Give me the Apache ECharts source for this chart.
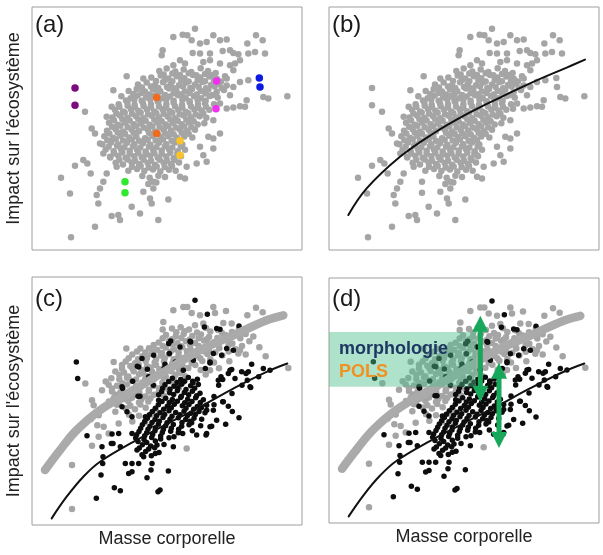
<!DOCTYPE html>
<html>
<head>
<meta charset="utf-8">
<script src="https://cdn.jsdelivr.net/npm/echarts/dist/echarts.min.js"></script>
<style>
  html, body { margin: 0; padding: 0; background: #fff; }
  #chart { width: 603px; height: 555px; }
</style>
</head>
<body>
<div id="chart"></div>
<script>
// data, in arbitrary units (mass 0-810, impact 0-745)
const cloudCore = [
  [382,538],[404,545],[430,536],[455,542],[478,535],[506,546],[528,538],[551,532],
  [358,518],[386,524],[409,515],[434,522],[457,516],[483,526],[505,518],[532,521],[555,514],[579,522],
  [318,497],[344,503],[369,495],[393,504],[416,498],[441,495],[462,503],[489,497],[511,505],[537,496],[561,500],[584,494],
  [290,478],[314,484],[339,476],[363,482],[385,477],[411,485],[433,479],[459,476],[480,484],[506,478],[529,482],[554,475],[576,481],
  [268,462],[296,456],[317,464],[342,458],[365,463],[391,456],[413,461],[438,465],[461,457],[486,462],[507,456],[533,463],[557,458],
  [260,438],[286,444],[308,436],[333,441],[357,437],[379,444],[403,438],[425,442],[450,436],[473,443],[498,437],[519,441],[546,438],
  [249,421],[273,416],[297,423],[319,418],[345,422],[367,416],[392,423],[414,417],[439,421],[461,415],[487,422],[509,418],[532,421],
  [241,398],[264,404],[286,397],[312,402],[334,396],[359,403],[381,398],[407,401],[429,396],[455,404],[477,398],[503,402],[523,397],
  [231,382],[257,376],[279,383],[305,378],[327,381],[353,376],[375,383],[401,377],[423,382],[449,378],[471,384],[497,377],[517,381],
  [225,358],[251,363],[273,356],[299,361],[321,357],[347,362],[369,356],[395,361],[417,358],[443,363],[465,357],[489,361],
  [217,342],[243,337],[265,343],[291,338],[313,341],[339,336],[361,343],[387,339],[409,342],[435,337],[457,341],[481,338],
  [211,318],[237,323],[259,317],[285,322],[307,318],[333,321],[355,316],[381,322],[403,318],[429,323],[451,317],
  [221,302],[245,297],[267,303],[293,298],[315,301],[341,296],[363,302],[389,299],[411,303],[437,297],[459,301],
  [235,278],[259,283],[281,277],[307,282],[329,279],[355,284],[377,278],[403,281],[425,276],[447,282],
  [251,262],[273,257],[299,263],[321,258],[347,261],[369,256],[395,262],[417,258],[441,263],
  [289,238],[315,243],[337,237],[363,242],[385,236],[411,241],[431,238],
  [331,222],[353,217],[379,223],[399,219],
  [349,198],[373,203]
];
const cloudDense = [
  [395,527],[421,530],[444,526],[470,531],[493,525],[519,529],[541,526],
  [372,508],[399,511],[421,507],[448,510],[470,506],[497,511],[519,507],[546,510],[567,506],
  [330,488],[357,491],[379,487],[405,490],[427,486],[453,491],[475,487],[500,490],[522,486],[548,491],[569,487],
  [304,469],[329,472],[351,467],[377,471],[399,466],[425,471],[447,468],[473,472],[494,467],[520,470],[542,466],
  [282,449],[307,452],[329,448],[355,451],[377,447],[403,452],[425,448],[451,451],[473,447],[497,450],[521,448],
  [262,430],[287,433],[309,429],[335,432],[357,428],[381,431],[403,427],[429,432],[451,428],[477,431],[499,427],[522,430],
  [253,410],[278,413],[300,409],[326,412],[348,408],[373,411],[395,409],[421,412],[443,408],[469,411],[491,407],[514,410],
  [246,390],[271,393],[293,389],[319,392],[341,388],[367,391],[389,387],[415,392],[437,388],[463,391],[485,387],
  [240,370],[265,373],[287,369],[313,372],[335,368],[361,371],[383,369],[409,372],[431,368],[457,371],[478,369],
  [232,350],[257,353],[279,349],[305,352],[351,352],[377,349],[399,351],[425,348],[449,352],[470,349],
  [226,330],[251,333],[273,329],[299,332],[321,328],[347,331],[371,329],[393,332],[419,328],[442,331],
  [230,310],[255,313],[277,309],[303,312],[325,308],[351,311],[373,309],[399,312],[421,308],[446,311],
  [246,290],[271,293],[293,289],[319,292],[341,288],[367,291],[389,289],[415,292],[436,289],
  [262,270],[287,272],[309,268],[335,271],[357,268],[383,271],[405,268],[428,270],
  [300,250],[326,252],[350,248],[374,251],[398,249],[420,252]
];
const cloudOuter = [
  [489,665],[424,640],[452,647],[466,645],[479,630],[504,620],[524,625],[544,645],[564,630],[584,632],
  [672,645],[692,630],[646,620],[392,600],[389,585],[482,592],[504,590],[534,590],[572,598],[594,600],
  [604,592],[619,588],[649,590],[669,595],[699,590],[424,555],[444,570],[459,560],[514,565],[534,570],
  [564,560],[594,555],[609,560],[624,570],[284,522],[334,515],[604,540],[584,515],[624,505],[649,510],
  [604,490],[594,465],[644,450],[639,430],[694,460],[709,455],[766,462],[584,425],[604,428],[624,432],
  [564,440],[544,390],[529,340],[544,335],[564,350],[504,310],[494,260],[524,265],[514,285],[544,305],
  [464,250],[444,220],[459,215],[409,152],[364,205],[364,185],[334,175],[354,155],[359,140],[379,90],
  [324,110],[299,130],[259,105],[239,102],[264,90],[189,70],[114,170],[117,38],[87,217],[129,253],
  [154,270],[166,260],[176,230],[194,165],[199,140],[204,185],[214,205],[224,230],[254,250],[244,480],
  [159,415],[179,365],[189,350],[204,320],[214,290],[234,280],[224,400],[239,430]
];
const purplePts = [[129,487],[129,435]];
const orangePts = [[374,458],[374,350]];
const yellowPts = [[444,328],[444,285]];
const magentaPts = [[554,508],[552,424]];
const bluePts = [[682,517],[684,490]];
const greenPts = [[279,205],[279,172]];

const fitCurveB = [[58,105],[113,185],[213,280],[313,350],[413,408],[513,458],[613,505],[713,548],[768,572]];

const upperGray = [
  [424,645],[454,655],[466,655],[479,637],[504,630],[544,655],[549,637],[582,643],[646,630],[672,653],
  [692,639],[394,610],[392,587],[489,600],[514,605],[574,607],[599,605],[619,515],[624,525],[769,472],
  [464,230],[283,530],[325,530],[245,490],[270,470],[180,375],[185,360],[210,405],[240,410],[160,425],
  [120,180],[120,48],[180,238],[200,265],[230,275],[215,295],[260,305],[250,340],[534,465],
  [420,590],[446,594],[471,587],[522,592],[558,586],[621,590],
  [402,571],[431,566],[455,574],[481,568],[507,572],[531,565],[582,570],[641,574],[664,566],
  [380,548],[411,553],[436,546],[462,552],[489,547],[516,554],[546,549],[601,545],[652,552],
  [351,531],[376,526],[401,533],[426,528],[451,534],[476,527],[502,532],[531,526],[562,531],[611,528],[682,534],
  [301,512],[331,507],[358,514],[386,509],[411,513],[439,506],[466,512],[495,508],[526,514],[571,509],[641,512],[701,507],
  [281,491],[309,486],[341,493],[368,488],[396,492],[421,486],[451,491],[479,487],[511,493],[546,488],[592,492],
  [301,471],[329,466],[356,473],[382,468],[409,472],[441,467],[469,472],[506,466],[561,471],
  [262,451],[289,446],[321,453],[346,447],[374,452],[401,446],[431,451],[459,447],[521,452],
  [221,431],[271,426],[299,433],[331,428],[358,432],[391,427],[419,431],[452,428],
  [269,411],[301,407],[324,412],[351,406],[381,411],[409,407],[441,412],
  [251,391],[279,387],[311,392],[339,386],[366,391],[396,388],
  [231,371],[261,367],[289,372],[321,368],[349,371],
  [281,351],[309,348],[341,352],[371,347],
  [291,331],[321,328],[359,332],
  [301,311],[339,308]
];
const upperGrayDense = [
  [433,579],[458,582],[495,578],[535,581],[570,577],[600,580],
  [392,561],[420,558],[448,562],[474,557],[500,561],[525,558],[556,562],[590,557],[625,561],
  [365,541],[392,538],[420,542],[448,537],[474,541],[500,538],[528,542],[560,537],[590,541],[630,538],
  [315,521],[340,518],[365,522],[390,517],[416,521],[440,518],[465,522],[490,517],[518,521],[550,518],[590,521],
  [290,501],[318,498],[345,502],[372,497],[398,501],[425,498],[452,502],[478,497],[505,501],[535,498],
  [270,481],[295,478],[320,482],[345,477],[372,481],[398,478],[425,482],[452,477],[490,481],
  [250,461],[276,458],[305,462],[333,457],[360,461],[390,458],[418,462],[445,457],
  [238,441],[262,438],[285,442],[312,437],[340,441],[366,438],[395,442],[425,437],
  [230,421],[255,418],[285,422],[312,417],[338,421],[365,418],[395,422],
  [240,401],[265,398],[292,402],[322,397],[350,401],[380,398],
  [245,381],[272,378],[300,382],[328,377],[355,381],
  [255,361],[295,358],[325,362],[200,330],[176,318],[196,300]
];
const lowerBlack = [
  [489,675],[526,633],[517,595],[564,588],[621,598],[416,553],[476,550],[444,535],[544,515],[569,510],
  [604,525],[454,465],[484,495],[534,490],[594,465],[629,460],[649,460],[659,483],[694,470],[714,465],
  [567,445],[609,440],[646,435],[656,413],[574,370],[544,345],[524,360],[554,315],[534,295],[494,270],
  [524,275],[479,307],[452,275],[426,265],[424,235],[409,162],[384,105],[133,490],[137,440],[165,268],
  [210,235],[213,205],[212,185],[207,150],[247,112],[265,103],[193,80],[378,100],[345,142],[357,165],
  [300,160],[290,155],[280,185],[300,185],[243,245],[260,275],[270,355],[270,415],[320,475],[318,387],
  [350,445],[365,510],[410,545],[380,375],[340,325],[300,325],[285,340],[240,273],[238,245],[265,235],
  [300,275],[315,225],[335,205],[320,185],[370,215],[360,185],[375,240],
  [421,441],[446,437],[469,443],[496,438],
  [399,421],[426,417],[449,423],[476,418],[499,422],
  [389,401],[413,397],[436,403],[457,398],[481,402],[504,396],
  [401,381],[421,377],[446,383],[467,378],[491,382],[514,376],[546,386],
  [379,361],[406,357],[427,363],[451,358],[471,362],[496,356],[546,361],[589,357],
  [361,341],[384,337],[411,343],[431,338],[456,342],[477,336],[501,341],[519,337],[601,341],
  [346,321],[369,317],[393,323],[414,318],[439,322],[461,317],[486,321],[509,318],[621,322],
  [331,301],[354,297],[379,303],[401,298],[424,302],[449,297],[471,301],[506,298],[581,303],
  [321,281],[344,277],[369,283],[391,278],[416,282],[439,277],[481,283],
  [311,261],[336,257],[359,263],[386,258],[411,262],
  [331,241],[356,237],[396,242],
  [341,221],[381,218],
  [330,500],[346,468],[302,432],[396,470],[482,432],[430,490],[560,420],[600,395],[520,470],[680,445],[630,420],
  [554,590],[474,552],[584,530],[412,515],[399,483],[316,477],[364,420],[324,387],[272,410]
];
const lowerBlackDense = [
  [410,431],[435,428],[458,432],[483,427],
  [392,411],[414,408],[438,412],[462,407],[488,411],
  [380,391],[425,392],[448,387],[470,391],[494,388],
  [390,371],[412,368],[436,372],[458,367],[480,371],[505,368],
  [370,351],[395,348],[418,352],[462,351],[485,348],[508,352],
  [352,331],[374,328],[398,332],[420,327],[444,331],[466,328],[490,332],
  [338,311],[360,308],[382,312],[405,307],[450,308],[474,312],
  [326,291],[348,288],[370,292],[394,287],[418,291],[440,288],
  [314,271],[338,268],[362,272],[386,267],
  [318,251],[344,248],[370,252],
  [322,231],[350,228],[368,232],
  [330,211],[358,208],
  [642,455],[599,467],[589,455],[572,437],[559,435],[654,415],[572,370],[539,297],[522,270],[524,345],[534,487]
];
const upperCurve = [[39,165],[84,225],[134,285],[204,345],[304,405],[404,465],[504,525],[604,570],[704,615],[754,630]];
const lowerCurve = [[59,20],[104,85],[154,145],[204,190],[304,250],[404,303],[504,355],[604,410],[704,460],[766,485]];

// panel (d) annotations: shaded box [x0, y0, x1, y1], arrows [x, yTop, yBottom]
const shadeBox = [[0, 414, 441, 581]];
const arrows = [[454, 630, 369], [510, 487, 228]];

const FONT = '"Liberation Sans", Arial, sans-serif';
const GRAY = '#a5a5a5';

function makeAxis(i, isX, max, name) {
  const ax = {
    type: 'value', gridIndex: i, min: 0, max: max,
    axisLine: { show: false }, axisTick: { show: false },
    axisLabel: { show: false }, splitLine: { show: false },
  };
  if (name) {
    ax.name = name;
    ax.nameLocation = 'middle';
    ax.nameGap = isX ? 5 : 9;
    ax.nameTextStyle = { fontSize: 18, color: '#222', fontFamily: FONT };
  }
  return ax;
}

function dots(i, data, color, size) {
  return {
    type: 'scatter', xAxisIndex: i, yAxisIndex: i, data: data,
    symbolSize: size, itemStyle: { color: color, opacity: 1 }, silent: true,
  };
}

function curve(i, data, color, width) {
  return {
    type: 'line', xAxisIndex: i, yAxisIndex: i, data: data, smooth: 0.4,
    showSymbol: false, lineStyle: { color: color, width: width, cap: 'round' }, silent: true,
  };
}

const cloud = cloudCore.concat(cloudDense, cloudOuter);
const upper = upperGray.concat(upperGrayDense);
const lower = lowerBlack.concat(lowerBlackDense);
const highlights = [
  [purplePts, '#7d0a80'], [orangePts, '#f26a1b'], [yellowPts, '#fbc325'],
  [magentaPts, '#f22ef0'], [bluePts, '#0d1be0'], [greenPts, '#2ee92e'],
];
const allHighlights = highlights.reduce((acc, h) => acc.concat(h[0]), []);

const series = [
  dots(0, cloud, GRAY, 6.5),
  ...highlights.map((h) => dots(0, h[0], h[1], 7.5)),
  dots(1, cloud.concat(allHighlights), GRAY, 6.5),
  curve(1, fitCurveB, '#111', 2),
];
[2, 3].forEach((i) => {
  series.push(dots(i, upper, GRAY, 6.5));
  series.push(curve(i, upperCurve, '#aaaaaa', 8.5));
  series.push(dots(i, lower, '#0d0d0d', 5.5));
  series.push(curve(i, lowerCurve, '#111', 2));
});
series.push({
  type: 'custom', xAxisIndex: 3, yAxisIndex: 3, z: 10, silent: true,
  data: shadeBox,
  renderItem: (params, api) => {
    const p0 = api.coord([api.value(0), api.value(3)]);
    const p1 = api.coord([api.value(2), api.value(1)]);
    return {
      type: 'rect',
      shape: { x: p0[0], y: p0[1], width: p1[0] - p0[0], height: p1[1] - p0[1] },
      style: { fill: 'rgba(78,190,140,0.45)' },
    };
  },
});
series.push({
  type: 'custom', xAxisIndex: 3, yAxisIndex: 3, z: 12, silent: true,
  data: arrows,
  renderItem: (params, api) => {
    const top = api.coord([api.value(0), api.value(1)]);
    const bot = api.coord([api.value(0), api.value(2)]);
    const x = top[0], hw = 8, hh = 16;
    const green = '#17a85b';
    return {
      type: 'group',
      children: [
        { type: 'line', shape: { x1: x, y1: top[1] + hh - 2, x2: x, y2: bot[1] - hh + 2 },
          style: { stroke: green, lineWidth: 5 } },
        { type: 'polygon', shape: { points: [[x, top[1]], [x - hw, top[1] + hh], [x + hw, top[1] + hh]] },
          style: { fill: green } },
        { type: 'polygon', shape: { points: [[x, bot[1]], [x - hw, bot[1] - hh], [x + hw, bot[1] - hh]] },
          style: { fill: green } },
      ],
    };
  },
});

const grids = [
  { left: 32, top: 7, width: 270, height: 243 },
  { left: 329, top: 7, width: 270, height: 243 },
  { left: 32, top: 277, width: 270, height: 248 },
  { left: 329, top: 278, width: 270, height: 245 },
].map((g) => Object.assign(g, { show: true, borderColor: '#9e9e9e', borderWidth: 1 }));

const panelLabels = ['(a)', '(b)', '(c)', '(d)'];
const labelPos = [[35, 13], [332, 13], [35, 287], [332, 287]];

const option = {
  animation: false,
  backgroundColor: '#fff',
  grid: grids,
  xAxis: [
    makeAxis(0, true, 810), makeAxis(1, true, 810),
    makeAxis(2, true, 810, 'Masse corporelle'), makeAxis(3, true, 810, 'Masse corporelle'),
  ],
  yAxis: [
    makeAxis(0, false, 730, 'Impact sur l\'écosystème'), makeAxis(1, false, 730),
    makeAxis(2, false, 745, 'Impact sur l\'écosystème'), makeAxis(3, false, 745),
  ],
  title: panelLabels.map((t, i) => ({
    text: t, left: labelPos[i][0], top: labelPos[i][1], padding: 0,
    textStyle: { fontSize: 24, fontWeight: 'normal', color: '#1a1a1a', fontFamily: FONT },
  })),
  graphic: [
    { type: 'text', left: 339, top: 340, z: 20, silent: true,
      style: { text: 'morphologie', fontSize: 18, fontWeight: 'bold', fill: '#1f3763', fontFamily: FONT } },
    { type: 'text', left: 339, top: 363, z: 20, silent: true,
      style: { text: 'POLS', fontSize: 18, fontWeight: 'bold', fill: '#ef9222', fontFamily: FONT } },
  ],
  series: series,
};

const myChart = echarts.init(document.getElementById('chart'), null, { renderer: 'canvas' });
myChart.setOption(option);
</script>
</body>
</html>
